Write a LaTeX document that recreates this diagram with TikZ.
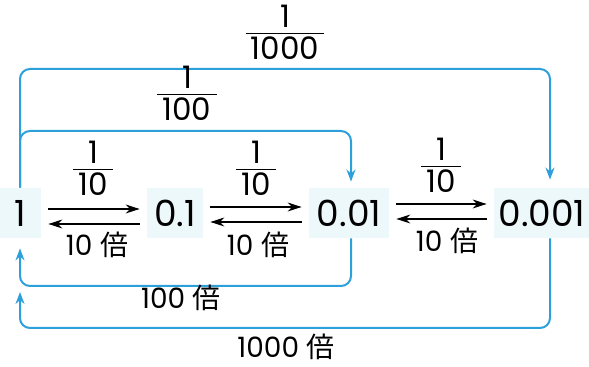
\documentclass[tikz,border=0pt]{standalone}
\usepackage{amsmath}
\usepackage{fontspec}
\setmainfont{Poppins}
\newfontfamily\cjk{Noto Sans CJK JP}
\usetikzlibrary{arrows.meta}
\definecolor{loopblue}{RGB}{45,160,220}
\definecolor{boxcyan}{RGB}{237,248,250}
\setlength{\arrayrulewidth}{0.6pt}
\newcommand\frc[2]{\begin{tabular}{@{\,}c@{\,}}#1\\[-2.5pt]\hline #2\end{tabular}}

\begin{document}
\begin{tikzpicture}[x=0.5pt,y=-0.5pt,
	num/.style={fill=boxcyan,font=\fontsize{18}{20}\selectfont,minimum height=25pt,inner xsep=2pt},
	lab/.style={font=\fontsize{14}{16}\selectfont,inner sep=1pt},
	frac/.style={font=\fontsize{15.5}{18}\selectfont,inner sep=1pt},
	bar/.style={-{Stealth[length=7pt,width=4.5pt]},line width=0.6pt,shorten <=3.5pt,shorten >=3.5pt},
	loop/.style={loopblue,line width=1pt,rounded corners=5pt,-{Stealth[length=6pt,width=4.5pt]}}]
				\useasboundingbox (0,0) rectangle (589,367);
				\node[num,minimum width=21pt] (n1) at (20,213) {1};
				\node[num,minimum width=28pt] (n2) at (175,213) {0.1};
				\node[num,minimum width=40pt] (n3) at (349,213) {0.01};
				\node[num,minimum width=48pt] (n4) at (542,213) {0.001};
				\coordinate (top1000) at (0,69);
				\coordinate (top100) at (0,131);
				\coordinate (bot100) at (0,286);
				\coordinate (bot1000) at (0,328);
				\draw[bar] ([yshift=2pt]n1.east) -- ([yshift=2pt]n2.west);
				\draw[bar] ([yshift=-5.5pt]n2.west) -- ([yshift=-5.5pt]n1.east);
				\draw[bar] ([yshift=3pt]n2.east) -- ([yshift=3pt]n3.west);
				\draw[bar] ([yshift=-4.5pt]n3.west) -- ([yshift=-4.5pt]n2.east);
				\draw[bar] ([yshift=4.5pt]n3.east) -- ([yshift=4.5pt]n4.west);
				\draw[bar] ([yshift=-3pt]n4.west) -- ([yshift=-3pt]n3.east);
				\node[frac] (f1) at (93,172) {\frc{1}{10}};
				\node[frac] (f2) at (256,172) {\frc{1}{10}};
				\node[frac] (f3) at (441,169) {\frc{1}{10}};
				\node[lab] (t1) at (97,245) {10 {\cjk 倍}};
				\node[lab] (t2) at (258,245) {10 {\cjk 倍}};
				\node[lab] (t3) at (447,241) {10 {\cjk 倍}};
				\draw[loop,shorten >=3pt] (n1.north) -- (n1.north |- top100) -| ([xshift=1pt]n3.north);
				\draw[loop,shorten >=4pt] (n1.north) -- (n1.north |- top1000) -| ([xshift=4pt]n4.north);
				\draw[loop,shorten >=5pt] ([xshift=1pt]n3.south) |- (n1.south |- bot100) -- (n1.south);
				\draw[loop,shorten >=3pt] ([xshift=4pt]n4.south) |- (n1.south |- bot1000) -- (n1.south |- bot100);
				\node[frac] (f4) at (187,97) {\frc{1}{100}};
				\node[frac] (f5) at (285,36) {\frc{1}{1000}};
				\node[lab] (t4) at (181,298) {100 {\cjk 倍}};
				\node[lab] (t5) at (286,347) {1000 {\cjk 倍}};
			\end{tikzpicture}
\end{document}
